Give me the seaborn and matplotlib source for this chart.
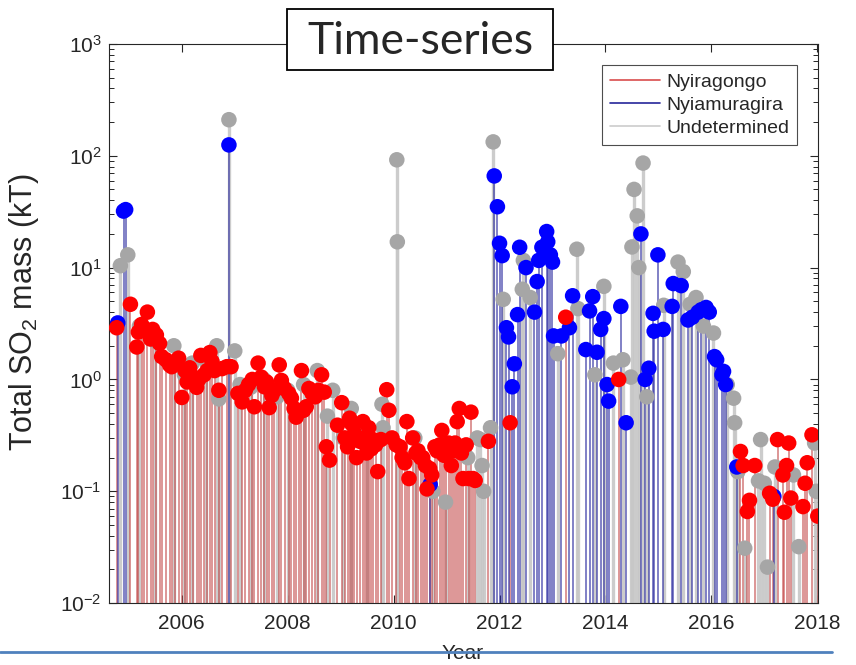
import pandas as pd
import seaborn as sns
import matplotlib.pyplot as plt
from matplotlib.lines import Line2D
from matplotlib.patches import Rectangle
from matplotlib.ticker import LogLocator, NullFormatter

# --- data (decimal year, SO2 mass in kT) ---
nyiragongo_year = [
    2004.77, 2005.03, 2005.15, 2005.18, 2005.24, 2005.28, 2005.35, 2005.41, 2005.45, 2005.52,
    2005.58, 2005.62, 2005.70, 2005.77, 2005.81, 2005.88, 2005.94, 2006.00, 2006.06, 2006.10,
    2006.15, 2006.22, 2006.28, 2006.32, 2006.36, 2006.42, 2006.48, 2006.53, 2006.57, 2006.62,
    2006.70, 2006.76, 2006.85, 2006.93, 2007.06, 2007.14, 2007.20, 2007.26, 2007.33, 2007.37,
    2007.44, 2007.50, 2007.56, 2007.60, 2007.65, 2007.70, 2007.75, 2007.84, 2007.88, 2007.94,
    2008.02, 2008.07, 2008.12, 2008.16, 2008.21, 2008.26, 2008.30, 2008.35, 2008.40, 2008.46,
    2008.52, 2008.58, 2008.64, 2008.69, 2008.73, 2008.79, 2008.94, 2009.02, 2009.08, 2009.13,
    2009.17, 2009.21, 2009.26, 2009.30, 2009.36, 2009.42, 2009.46, 2009.49, 2009.53, 2009.58,
    2009.61, 2009.66, 2009.70, 2009.76, 2009.87, 2009.91, 2009.97, 2010.05, 2010.12, 2010.16,
    2010.21, 2010.25, 2010.29, 2010.36, 2010.42, 2010.46, 2010.51, 2010.55, 2010.60, 2010.63,
    2010.68, 2010.72, 2010.78, 2010.82, 2010.87, 2010.91, 2010.95, 2010.99, 2011.04, 2011.09,
    2011.13, 2011.16, 2011.20, 2011.24, 2011.28, 2011.31, 2011.37, 2011.42, 2011.46, 2011.50,
    2011.54, 2011.79, 2012.20, 2013.25, 2014.25,
    2016.55, 2016.60, 2016.68, 2016.72, 2016.82, 2017.10, 2017.16, 2017.25, 2017.35, 2017.38,
    2017.42, 2017.46, 2017.50, 2017.73, 2017.77, 2017.81, 2017.90, 2018.01,
]
nyiragongo_mass = [
    2.9, 4.7, 1.95, 2.65, 3.1, 2.9, 4.0, 2.3, 2.8, 2.5,
    2.1, 1.6, 1.5, 1.35, 1.3, 1.45, 1.55, 0.69, 1.2, 0.95,
    1.27, 1.05, 0.85, 1.0, 1.64, 1.1, 1.2, 1.74, 1.45, 1.2,
    0.8, 1.25, 1.3, 1.3, 0.75, 0.63, 0.8, 0.9, 1.0, 0.57,
    1.4, 1.05, 0.86, 0.95, 0.56, 0.72, 0.8, 1.35, 0.98, 0.83,
    0.75, 0.68, 0.55, 0.46, 0.52, 1.2, 0.53, 0.57, 0.83, 0.75,
    0.7, 0.8, 1.1, 0.77, 0.25, 0.19, 0.39, 0.62, 0.3, 0.25,
    0.45, 0.4, 0.33, 0.2, 0.28, 0.42, 0.3, 0.22, 0.37, 0.24,
    0.29, 0.26, 0.15, 0.29, 0.81, 0.53, 0.3, 0.26, 0.25, 0.2,
    0.18, 0.42, 0.13, 0.3, 0.22, 0.23, 0.2, 0.2, 0.17, 0.105,
    0.16, 0.14, 0.25, 0.23, 0.26, 0.35, 0.21, 0.25, 0.27, 0.17,
    0.23, 0.27, 0.42, 0.55, 0.22, 0.13, 0.26, 0.13, 0.51, 0.13,
    0.125, 0.28, 0.41, 3.6, 1.0,
    0.227, 0.17, 0.066, 0.083, 0.17, 0.096, 0.085, 0.29, 0.14, 0.065,
    0.17, 0.27, 0.087, 0.073, 0.118, 0.18, 0.32, 0.06,
]

nyiamuragira_year = [
    2004.79, 2004.90, 2004.94, 2006.89, 2010.69, 2011.90, 2011.96, 2012.00, 2012.05, 2012.13,
    2012.17, 2012.24, 2012.28, 2012.34, 2012.38, 2012.50, 2012.66, 2012.71, 2012.74, 2012.80,
    2012.89, 2012.91, 2012.96, 2013.00, 2013.02, 2013.17, 2013.32, 2013.38, 2013.63, 2013.70,
    2013.76, 2013.84, 2013.91, 2013.97, 2014.03, 2014.06, 2014.29, 2014.39, 2014.67, 2014.75,
    2014.82, 2014.90, 2014.92, 2014.99, 2015.09, 2015.26, 2015.28, 2015.43, 2015.56, 2015.64,
    2015.75, 2015.81, 2015.90, 2015.96, 2016.06, 2016.10, 2016.20, 2016.23, 2016.27, 2016.48,
    2017.18,
]
nyiamuragira_mass = [
    3.2, 32, 33, 125, 0.115, 66, 35, 16.5, 12.8, 2.9,
    2.4, 0.86, 1.38, 3.8, 15.2, 10, 4.0, 7.5, 11.6, 15.2,
    21, 17, 13, 11.2, 2.45, 2.45, 2.9, 5.6, 1.85, 4.1,
    5.5, 1.75, 2.8, 3.5, 0.9, 0.64, 4.5, 0.41, 20, 1.0,
    1.26, 3.9, 2.7, 13, 2.8, 4.5, 7.2, 6.9, 3.4, 3.6,
    4.0, 4.2, 4.4, 4.0, 1.6, 1.5, 1.1, 1.18, 0.9, 0.165,
    0.09,
]

undetermined_year = [
    2004.84, 2004.98, 2005.20, 2005.50, 2005.85, 2006.05, 2006.20, 2006.45, 2006.66, 2006.70,
    2006.89, 2007.00, 2007.10, 2007.30, 2007.55, 2007.80, 2008.00, 2008.30, 2008.56, 2008.75,
    2008.85, 2009.05, 2009.20, 2009.50, 2009.78, 2009.80, 2010.06, 2010.07, 2010.40, 2010.74,
    2010.98, 2011.40, 2011.58, 2011.64, 2011.67, 2011.70, 2011.83, 2011.88, 2012.07, 2012.43,
    2012.45, 2012.58, 2013.10, 2013.46, 2013.48, 2013.80, 2013.97, 2014.15, 2014.33, 2014.48,
    2014.50, 2014.54, 2014.60, 2014.63, 2014.71, 2014.78, 2015.10, 2015.37, 2015.47, 2015.60,
    2015.71, 2015.85, 2016.04, 2016.30, 2016.42, 2016.44, 2016.50, 2016.63, 2016.89, 2016.93,
    2017.00, 2017.06, 2017.20, 2017.55, 2017.65, 2017.95, 2017.98,
]
undetermined_mass = [
    10.4, 13, 3.0, 2.2, 2.0, 1.1, 1.4, 1.5, 2.0, 0.67,
    210, 1.8, 0.9, 0.85, 1.0, 0.7, 0.8, 0.9, 1.2, 0.47,
    0.8, 0.3, 0.55, 0.35, 0.6, 0.37, 92, 17, 0.3, 0.1,
    0.08, 0.2, 0.3, 0.29, 0.17, 0.1, 0.37, 133, 5.2, 6.4,
    11.6, 5.4, 1.7, 14.6, 4.3, 1.1, 6.8, 1.4, 1.5, 1.05,
    15.3, 50, 29, 10, 86, 0.7, 4.6, 11.2, 9.2, 4.7,
    5.4, 3.0, 2.6, 0.9, 0.68, 0.41, 0.15, 0.031, 0.124, 0.29,
    0.118, 0.021, 0.165, 0.14, 0.032, 0.27, 0.1,
]

sources = ['Nyiragongo', 'Nyiamuragira', 'Undetermined']
year_ticks = [2006, 2008, 2010, 2012, 2014, 2016, 2018]

df = pd.concat([
    pd.DataFrame({'year': undetermined_year, 'mass': undetermined_mass, 'source': 'Undetermined'}),
    pd.DataFrame({'year': nyiamuragira_year, 'mass': nyiamuragira_mass, 'source': 'Nyiamuragira'}),
    pd.DataFrame({'year': nyiragongo_year, 'mass': nyiragongo_mass, 'source': 'Nyiragongo'}),
], ignore_index=True)

sns.set_theme(style='ticks', rc={
    'xtick.direction': 'in', 'ytick.direction': 'in',
    'xtick.top': True, 'ytick.right': True,
    'axes.edgecolor': '0.15', 'axes.linewidth': 0.8,
})
plt.rcParams['font.family'] = ['Liberation Sans', 'DejaVu Sans']
plt.rcParams['mathtext.fontset'] = 'custom'
plt.rcParams['mathtext.rm'] = 'Liberation Sans'

stem_style = {
    'Undetermined': dict(color=(0.78, 0.78, 0.78), lw=2.4, alpha=0.9),
    'Nyiragongo': dict(color=(0.74, 0.2, 0.2), lw=1.1, alpha=0.65),
    'Nyiamuragira': dict(color=(0.16, 0.16, 0.62), lw=1.1, alpha=0.75),
}
marker_colors = {'Nyiragongo': '#ff0000', 'Nyiamuragira': '#0000ff', 'Undetermined': '#a6a6a6'}

fig = plt.figure(figsize=(8.56, 6.65), dpi=100)
ax = fig.add_axes([0.127, 0.093, 0.829, 0.841])

for src in ['Undetermined', 'Nyiragongo', 'Nyiamuragira']:
    sub = df[df.source == src]
    ax.vlines(sub.year, 1e-2, sub.mass, zorder=1, **stem_style[src])

sns.scatterplot(data=df, x='year', y='mass', hue='source', palette=marker_colors,
                s=125, linewidth=0, alpha=1, legend=False, ax=ax, zorder=3)

ax.set_yscale('log')
ax.set_ylim(1e-2, 1e3)
ax.set_xlim(2004.62, 2018.02)
ax.set_xticks(year_ticks)
ax.set_xticklabels([str(y) for y in year_ticks])
ax.yaxis.set_major_locator(LogLocator(base=10, numticks=10))
ax.yaxis.set_minor_locator(LogLocator(base=10, subs=range(2, 10), numticks=20))
ax.yaxis.set_minor_formatter(NullFormatter())
ax.tick_params(axis='both', which='major', labelsize=15, length=6, width=0.8, colors='0.15')
ax.tick_params(axis='y', which='minor', length=3.5, width=0.7)
ax.tick_params(axis='x', pad=8)
ax.tick_params(axis='y', pad=5)
ax.set_xlabel('')
ax.set_ylabel('Total SO$_2$ mass (kT)', fontsize=22, color='0.15')
ax.yaxis.set_label_coords(-0.095, 0.52)

handles = [Line2D([], [], color=(0.85, 0.3, 0.3), lw=1.2),
           Line2D([], [], color=(0.15, 0.15, 0.6), lw=1.2),
           Line2D([], [], color=(0.8, 0.8, 0.8), lw=1.2)]
leg = ax.legend(handles, sources, loc='upper right', bbox_to_anchor=(0.9705, 0.962),
                fontsize=14, frameon=True, fancybox=False, framealpha=1,
                edgecolor='0.3', handlelength=2.6, handletextpad=0.3,
                borderpad=0.42, labelspacing=0.28, borderaxespad=0)
leg.get_frame().set_linewidth(0.8)

# title box on top of the frame
fig.patches.append(Rectangle((287 / 856, 1 - 70 / 665), 266 / 856, 61 / 665,
                             transform=fig.transFigure, fc='white', ec='black',
                             lw=1.3, zorder=5))
fig.text(420 / 856, 1 - 41 / 665, 'Time-series', ha='center', va='center',
         fontsize=32, family=['Lato', 'DejaVu Sans'], zorder=6)

# "Year" label sitting under the slide rule line
fig.text(463 / 856, 1 - 659 / 665, 'Year', ha='center', va='baseline', fontsize=15, color='0.15')
fig.add_artist(Line2D([0, 832 / 856], [1 - 652 / 665] * 2, transform=fig.transFigure,
                      color='#4f81bd', lw=2, zorder=10))

fig.savefig('out.png', dpi=100)
